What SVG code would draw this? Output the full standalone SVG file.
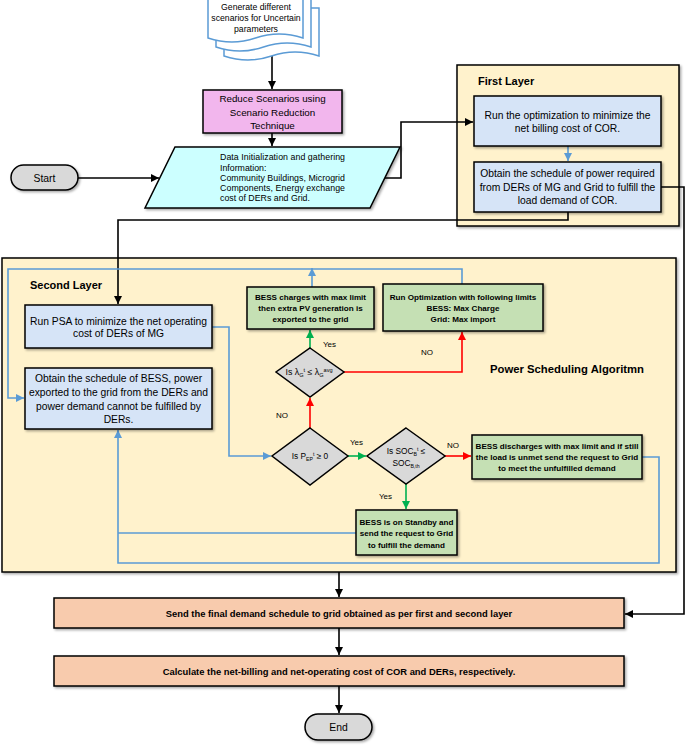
<svg xmlns="http://www.w3.org/2000/svg" width="685" height="746" viewBox="0 0 685 746">
<defs>
<filter id="sh" x="-5%" y="-5%" width="115%" height="130%">
<feDropShadow dx="1.5" dy="1.5" stdDeviation="0.8" flood-color="#000" flood-opacity="0.35"/>
</filter>
<marker id="ak" viewBox="0 0 10 10" refX="10" refY="5" markerWidth="8" markerHeight="8" markerUnits="userSpaceOnUse" orient="auto"><path d="M0,0 L10,5 L0,10 Z" fill="#000"/></marker>
<marker id="ab" viewBox="0 0 10 10" refX="10" refY="5" markerWidth="8" markerHeight="8" markerUnits="userSpaceOnUse" orient="auto"><path d="M0,0 L10,5 L0,10 Z" fill="#5b9bd5"/></marker>
<marker id="ar" viewBox="0 0 10 10" refX="10" refY="5" markerWidth="8" markerHeight="8" markerUnits="userSpaceOnUse" orient="auto"><path d="M0,0 L10,5 L0,10 Z" fill="#ff0000"/></marker>
<marker id="ag" viewBox="0 0 10 10" refX="10" refY="5" markerWidth="8" markerHeight="8" markerUnits="userSpaceOnUse" orient="auto"><path d="M0,0 L10,5 L0,10 Z" fill="#00b050"/></marker>
</defs>
<style>
.t{font-family:"Liberation Sans",Arial,sans-serif;fill:#000}
.m{text-anchor:middle}
.r{font-size:10.3px}
.g{font-size:8.1px;font-weight:bold}
.o{font-size:9.4px;font-weight:bold}
.s{font-size:8px}
.h{font-size:11px;font-weight:bold}
.bx{stroke:#000;stroke-width:1.5}
.blue{fill:#d6e4f7}
.green{fill:#c5e0b4}
.salmon{fill:#f8cbad}
.gray{fill:#d9d9d9}
.layer{fill:#fff2cc;stroke:#000;stroke-width:1.5}
.doc{fill:#fff;stroke:#5b9bd5;stroke-width:1.5}
.k{fill:none;stroke:#000;stroke-width:1.6}
.lb{fill:none;stroke:#5b9bd5;stroke-width:1.6}
.lr{fill:none;stroke:#ff0000;stroke-width:1.6}
.lg{fill:none;stroke:#00b050;stroke-width:1.6}
</style>
<rect width="685" height="746" fill="#fff"/>

<g id="first-layer">
<rect class="layer" x="457" y="65" width="222" height="161" filter="url(#sh)"/>
<text class="t h" x="478" y="85">First Layer</text>
</g>
<g id="second-layer">
<rect class="layer" x="2" y="258" width="674" height="314" filter="url(#sh)"/>
<text class="t h" x="30" y="289">Second Layer</text>
<text class="t h" x="490" y="373" style="font-size:11.3px">Power Scheduling Algoritmn</text>
</g>

<g id="connectors">
<path class="k" d="M272,56 V89" marker-end="url(#ak)"/>
<path class="k" d="M272,133 V146" marker-end="url(#ak)"/>
<path class="k" d="M78,178 H159" marker-end="url(#ak)"/>
<path class="k" d="M383,178 H401 V122 H473" marker-end="url(#ak)"/>
<path class="k" d="M568,212 V220 H118 V304" marker-end="url(#ak)"/>
<path class="k" d="M661,187 H684 V614 H625" marker-end="url(#ak)"/>
<path class="k" d="M339,572 V597" marker-end="url(#ak)"/>
<path class="k" d="M339,628 V655" marker-end="url(#ak)"/>
<path class="k" d="M339,686 V713" marker-end="url(#ak)"/>
<path class="lb" d="M568,146 V161" marker-end="url(#ab)"/>
<path class="lb" d="M212,327 H229 V456 H271" marker-end="url(#ab)"/>
<path class="lb" d="M312,287 V268" marker-end="url(#ab)"/>
<path class="lb" d="M462,284 V269 H8 V398 H24" marker-end="url(#ab)"/>
<path class="lb" d="M642,457 H659 V563 H118 V430" marker-end="url(#ab)"/>
<path class="lb" d="M356,533 H118"/>
<path class="lr" d="M310,428 V398" marker-end="url(#ar)"/>
<path class="lr" d="M344,372 H462 V332" marker-end="url(#ar)"/>
<path class="lr" d="M445,456 H471" marker-end="url(#ar)"/>
<path class="lg" d="M348,456 H366" marker-end="url(#ag)"/>
<path class="lg" d="M406,484 V509" marker-end="url(#ag)"/>
<path class="lg" d="M310,348 V330" marker-end="url(#ag)"/>
<text class="t s" x="323" y="347">Yes</text>
<text class="t s" x="276" y="418">NO</text>
<text class="t s" x="421" y="355">NO</text>
<text class="t s" x="350" y="445">Yes</text>
<text class="t s" x="447" y="448">NO</text>
<text class="t s" x="379" y="499">Yes</text>
</g>

<g id="scenarios">
<path class="doc" d="M224,8 H319 V56 Q295,48 271.5,56 Q248,64 224,56 Z"/>
<path class="doc" d="M216,-1 H311 V47 Q287,39 263.5,47 Q240,55 216,47 Z"/>
<path class="doc" d="M208,-10 H303 V38 Q279,30 255.5,38 Q232,46 208,38 Z"/>
<text class="t m" style="font-size:8.7px" x="256" y="9.5">Generate different</text>
<text class="t m" style="font-size:8.7px" x="256" y="21">scenarios for Uncertain</text>
<text class="t m" style="font-size:8.7px" x="256" y="32">parameters</text>
</g>

<g id="reduce">
<rect class="bx" x="203" y="90" width="139" height="43" fill="#f2b6ed" filter="url(#sh)"/>
<text class="t m" style="font-size:9.8px" x="272.5" y="101.5">Reduce Scenarios using</text>
<text class="t m" style="font-size:9.8px" x="272.5" y="115.5">Scenario Reduction</text>
<text class="t m" style="font-size:9.8px" x="272.5" y="128.5">Technique</text>
</g>

<g id="data-init">
<path class="bx" d="M175,147 H400 L370,208 H145 Z" fill="#ccffff" filter="url(#sh)"/>
<text class="t" style="font-size:8.8px" x="220" y="160" textLength="125" lengthAdjust="spacing">Data Initialization and gathering</text>
<text class="t" style="font-size:8.8px" x="220" y="171">Information:</text>
<text class="t" style="font-size:8.8px" x="220" y="181" textLength="125" lengthAdjust="spacing">Community Buildings, Microgrid</text>
<text class="t" style="font-size:8.8px" x="220" y="191" textLength="125" lengthAdjust="spacing">Components,  Energy  exchange</text>
<text class="t" style="font-size:8.8px" x="220" y="201">cost of DERs and Grid.</text>
</g>

<g id="start">
<rect class="bx gray" x="11" y="165" width="67" height="25" rx="12.5" filter="url(#sh)"/>
<text class="t m" style="font-size:10.4px" x="44.5" y="181.5">Start</text>
</g>

<g id="run-opt-cor">
<rect class="bx blue" x="474" y="96" width="187" height="50" filter="url(#sh)"/>
<text class="t m r" x="567.5" y="118.5">Run the optimization to minimize the</text>
<text class="t m r" x="567.5" y="131.5">net billing cost of COR.</text>
</g>

<g id="schedule-cor">
<rect class="bx blue" x="474" y="162" width="187" height="50" filter="url(#sh)"/>
<text class="t m r" x="567.5" y="176.5">Obtain the schedule of power required</text>
<text class="t m r" x="567.5" y="190.5">from DERs of MG and Grid to fulfill the</text>
<text class="t m r" x="567.5" y="203.5">load demand of COR.</text>
</g>

<g id="run-psa">
<rect class="bx blue" x="25" y="305" width="187" height="43" filter="url(#sh)"/>
<text class="t m r" x="118.5" y="324.5">Run PSA to minimize the net operating</text>
<text class="t m r" x="118.5" y="337">cost of DERs of MG</text>
</g>

<g id="schedule-bess">
<rect class="bx blue" x="25" y="368" width="187" height="61" filter="url(#sh)"/>
<text class="t m r" x="118.5" y="381.5">Obtain the schedule of BESS, power</text>
<text class="t m r" x="118.5" y="395.5">exported to the grid from the DERs and</text>
<text class="t m r" x="118.5" y="409.5">power demand cannot be fulfilled by</text>
<text class="t m r" x="118.5" y="422.5">DERs.</text>
</g>

<g id="bess-charges">
<rect class="bx green" x="247" y="287" width="127" height="42" filter="url(#sh)"/>
<text class="t m g" x="310.5" y="300">BESS charges with max limit</text>
<text class="t m g" x="310.5" y="311">then extra PV generation is</text>
<text class="t m g" x="310.5" y="322">exported to the grid</text>
</g>

<g id="run-opt-limits">
<rect class="bx green" x="383" y="284" width="160" height="47" filter="url(#sh)"/>
<text class="t m g" x="463" y="300">Run Optimization with following limits</text>
<text class="t m g" x="463" y="311">BESS: Max Charge</text>
<text class="t m g" x="463" y="322">Grid: Max import</text>
</g>

<g id="dec-price">
<path class="bx gray" d="M310,348 L344,372 L310,397 L276,372 Z"/>
<text class="t m" style="font-size:8.8px" x="309" y="375">Is λ<tspan font-size="5.6" dy="1.5">G</tspan><tspan font-size="5.6" dy="-4.5">t</tspan><tspan dy="3"> ≤  λ</tspan><tspan font-size="5.6" dy="1.5">G</tspan><tspan font-size="5.6" dy="-4.5">avg</tspan></text>
</g>

<g id="dec-power">
<path class="bx gray" d="M310,428 L348,456 L310,485 L272,456 Z"/>
<text class="t m" style="font-size:8.3px" x="310" y="459">Is P<tspan font-size="5.2" dy="1.5">EP</tspan><tspan font-size="5.2" dy="-4.5">t</tspan><tspan dy="3"> ≥ 0</tspan></text>
</g>

<g id="dec-soc">
<path class="bx gray" d="M406,428 L445,456 L406,484 L367,456 Z"/>
<text class="t m" style="font-size:8.3px" x="406" y="454">Is SOC<tspan font-size="5.2" dy="1.5">B</tspan><tspan font-size="5.2" dy="-4.5">t</tspan><tspan dy="3"> ≤</tspan></text>
<text class="t m" style="font-size:8.3px" x="406" y="466">SOC<tspan font-size="5.2" dy="1.5">B,th</tspan></text>
</g>

<g id="bess-discharges">
<rect class="bx green" x="472" y="435" width="170" height="44" filter="url(#sh)"/>
<text class="t m g" x="557" y="449">BESS discharges with max limit and if still</text>
<text class="t m g" x="557" y="460">the load is unmet send the request to Grid</text>
<text class="t m g" x="557" y="471">to meet the unfulfilled demand</text>
</g>

<g id="bess-standby">
<rect class="bx green" x="356" y="510" width="101" height="45" filter="url(#sh)"/>
<text class="t m g" x="406.5" y="525">BESS is on Standby and</text>
<text class="t m g" x="406.5" y="536">send the request to Grid</text>
<text class="t m g" x="406.5" y="548">to fulfill the demand</text>
</g>

<g id="send-final">
<rect class="bx salmon" x="54" y="598" width="570" height="30" filter="url(#sh)"/>
<text class="t m o" x="339" y="617">Send the final demand schedule to grid obtained as per first and second layer</text>
</g>

<g id="calculate">
<rect class="bx salmon" x="54" y="656" width="570" height="30" filter="url(#sh)"/>
<text class="t m o" x="339" y="674.5">Calculate the net-billing and net-operating cost of COR and DERs, respectively.</text>
</g>

<g id="end">
<rect class="bx gray" x="305" y="714" width="67" height="26" rx="13" filter="url(#sh)"/>
<text class="t m" style="font-size:10.4px" x="338.5" y="730.5">End</text>
</g>
</svg>
